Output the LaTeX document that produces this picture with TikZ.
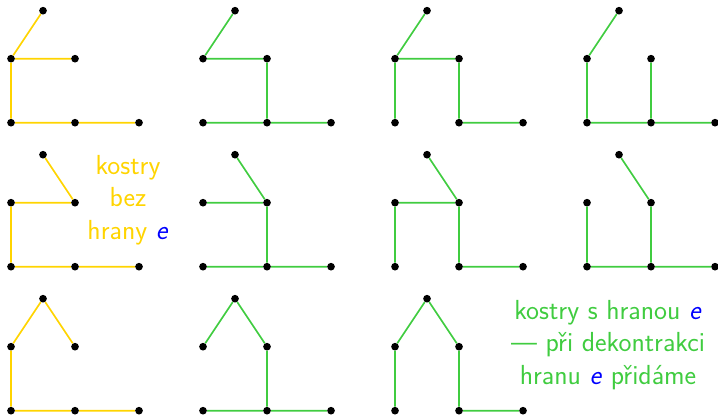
\documentclass[tikz,border=0pt]{standalone}
\usepackage{fontspec}
\definecolor{kyellow}{RGB}{255,212,0}
\definecolor{kgreen}{RGB}{64,204,64}
\definecolor{kblue}{RGB}{0,0,255}
\newcommand\gnodes[3]{%
  \node[dot] (#1t) at (#2+1,#3+3.5) {};
  \node[dot] (#1l) at (#2,#3+2) {};
  \node[dot] (#1r) at (#2+2,#3+2) {};
  \node[dot] (#1a) at (#2,#3) {};
  \node[dot] (#1b) at (#2+2,#3) {};
  \node[dot] (#1c) at (#2+4,#3) {};
}
\begin{document}
\begin{tikzpicture}[x=1cm,y=1cm,
  dot/.style={circle,fill=black,inner sep=0pt,minimum size=0.24cm},
  ye/.style={draw=kyellow,line width=1.5pt},
  ge/.style={draw=kgreen,line width=1.5pt},
  lab/.style={font=\sffamily\fontsize{24.5}{29}\selectfont,align=center}]
\useasboundingbox (0,0) rectangle (22.4375,13);
% row 1
\gnodes{A}{0.344}{9.166}
\gnodes{B}{6.344}{9.166}
\gnodes{C}{12.344}{9.166}
\gnodes{D}{18.344}{9.166}
% row 2
\gnodes{E}{0.344}{4.666}
\gnodes{F}{6.344}{4.666}
\gnodes{G}{12.344}{4.666}
\gnodes{H}{18.344}{4.666}
% row 3
\gnodes{I}{0.344}{0.166}
\gnodes{J}{6.344}{0.166}
\gnodes{K}{12.344}{0.166}
% edges row 1
\draw[ye] (At)--(Al) (Al)--(Ar) (Al)--(Aa) (Aa)--(Ab) (Ab)--(Ac);
\draw[ge] (Bt)--(Bl) (Bl)--(Br) (Br)--(Bb) (Ba)--(Bb) (Bb)--(Bc);
\draw[ge] (Ct)--(Cl) (Cl)--(Cr) (Cl)--(Ca) (Cr)--(Cb) (Cb)--(Cc);
\draw[ge] (Dt)--(Dl) (Dl)--(Da) (Da)--(Db) (Db)--(Dc) (Dr)--(Db);
% edges row 2
\draw[ye] (Et)--(Er) (El)--(Er) (El)--(Ea) (Ea)--(Eb) (Eb)--(Ec);
\draw[ge] (Ft)--(Fr) (Fl)--(Fr) (Fr)--(Fb) (Fa)--(Fb) (Fb)--(Fc);
\draw[ge] (Gt)--(Gr) (Gl)--(Gr) (Gl)--(Ga) (Gr)--(Gb) (Gb)--(Gc);
\draw[ge] (Ht)--(Hr) (Hl)--(Ha) (Ha)--(Hb) (Hb)--(Hc) (Hr)--(Hb);
% edges row 3
\draw[ye] (It)--(Il) (It)--(Ir) (Il)--(Ia) (Ia)--(Ib) (Ib)--(Ic);
\draw[ge] (Jt)--(Jl) (Jt)--(Jr) (Jr)--(Jb) (Ja)--(Jb) (Jb)--(Jc);
\draw[ge] (Kt)--(Kl) (Kt)--(Kr) (Kl)--(Ka) (Kr)--(Kb) (Kb)--(Kc);
% labels
\node[lab,text=kyellow] (t1) at (4.0,6.75) {kostry\\bez\\hrany \textcolor{kblue}{\textit{e}}};
\node[lab,text=kgreen] (t2) at (19.0,2.22) {kostry s hranou \textcolor{kblue}{\textit{e}}\\--- při dekontrakci\\hranu \textcolor{kblue}{\textit{e}} přidáme};
\end{tikzpicture}
\end{document}
